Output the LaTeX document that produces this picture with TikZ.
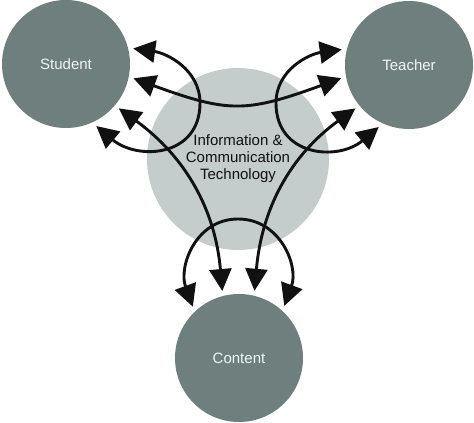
\documentclass[tikz,border=0pt]{standalone}
\usepackage{fontspec}
\setmainfont{Liberation Sans}
\usetikzlibrary{arrows.meta}

\begin{document}
\begin{tikzpicture}[
    x=1pt,y=1pt,
    actor/.style={circle,fill=color1,draw=none,minimum size=128pt,inner sep=0pt,outer sep=5pt,text=color3,font=\fontsize{15}{17}\selectfont},
    ict/.style={circle,fill=color2,draw=none,minimum size=182pt,inner sep=0pt,align=center,text=color4,font=\fontsize{15}{17}\selectfont},
    link/.style={line width=2.9pt,draw=color4,arrows={Triangle[length=22pt,width=22pt]-Triangle[length=22pt,width=22pt]}}
  ]

  \definecolor{color1}{HTML}{6E7F7E}
  \definecolor{color2}{HTML}{C4CCCC}
  \definecolor{color3}{HTML}{F0F4F4}
  \definecolor{color4}{HTML}{111111}

  \useasboundingbox (0,0) rectangle (474,423);

  \node[ict] at (238,264) (ict) {Information \&\\Communication\\Technology};

  \node[actor] at (66,359)  (student) {Student};
  \node[actor] at (409,358) (teacher) {Teacher};
  \node[actor] at (239,65)  (content) {Content};

  \coordinate (student-loop) at (200,320);
  \coordinate (teacher-loop) at (276,320);
  \coordinate (content-loop) at (238,204);

  \draw[link] (student.13) to[out=-8,in=90] (student-loop) to[out=-90,in=-40,looseness=1.3] (student.-64);
  \draw[link] (teacher.167) to[out=188,in=90] (teacher-loop) to[out=-90,in=220,looseness=1.3] (teacher.244);
  \draw[link] (content.132) to[out=110,in=180,looseness=1.1] (content-loop) to[out=0,in=70,looseness=1.1] (content.49);

  \draw[link] (student.-12) to[out=-20,in=200,looseness=1.25] (teacher.191);
  \draw[link] (student.-40) to[out=-36,in=95] (content.104);
  \draw[link] (teacher.219) to[out=216,in=85] (content.77);
\end{tikzpicture}
\end{document}
